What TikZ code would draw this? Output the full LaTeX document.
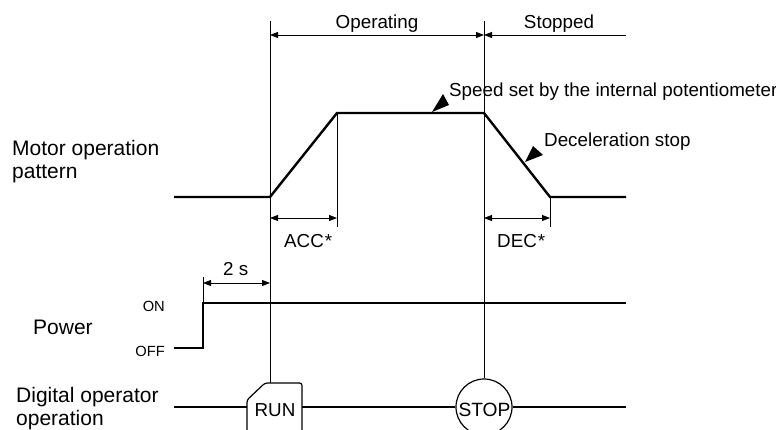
\documentclass[tikz,border=0pt]{standalone}
\usepackage{fontspec}
\setmainfont{Liberation Sans}
\usetikzlibrary{arrows.meta}
\begin{document}
\begin{tikzpicture}[x=1pt,y=-1pt,
  sig/.style={line width=2.4pt, line join=miter},
  thinln/.style={line width=0.9pt},
  tip/.tip={Triangle[length=8pt,width=6pt]},
  dimboth/.style={line width=0.8pt, tip-tip},
  dimleft/.style={line width=0.8pt, tip-},
  lbl/.style={font=\fontsize{18.8}{20}\selectfont, inner sep=0pt, anchor=base},
  big/.style={font=\fontsize{21}{23}\selectfont, inner sep=0pt, anchor=base west},
  small/.style={font=\fontsize{14.7}{16}\selectfont, inner sep=0pt, anchor=base east},
  keybox/.style={line width=1.2pt},
]
\useasboundingbox (0,0) rectangle (776,430);
\clip (0,0) rectangle (776,430);

% named points
\coordinate (runtop) at (270,21);
\coordinate (stoptop) at (484,21);
\coordinate (m0) at (174,197);
\coordinate (m1) at (270,197);
\coordinate (m2) at (337,113);
\coordinate (m3) at (484,113);
\coordinate (m4) at (550,197);
\coordinate (m5) at (626,197);
\coordinate (p0) at (174,348);
\coordinate (p1) at (203,348);
\coordinate (p2) at (203,303);
\coordinate (p3) at (626,303);

% top labels and dimension arrows
\node[lbl] (operating) at (377,29) {Operating};
\node[lbl] (stopped) at (559,29) {Stopped};
\coordinate (oa) at (270,35);
\coordinate (ob) at (484,35);
\coordinate (oc) at (626,35);
\draw[dimboth] (oa) -- (ob);
\draw[dimleft] (ob) -- (oc);

% RUN key and STOP key
\node[font=\fontsize{18.8}{20}\selectfont, inner sep=0pt, anchor=base] (run) at (275,416) {RUN};
\coordinate (rbl) at (247,440);
\coordinate (rbr) at (302,440);
\draw[keybox, rounded corners=2.5pt] (rbl) -- (247,400) -- (265,383) -- (302,383) -- (rbr);
\node[circle, draw, line width=1.2pt, minimum size=56pt, inner sep=0pt] (stopkey) at (484,407) {};
\node[font=\fontsize{19.2}{20}\selectfont, inner sep=0pt, anchor=base] (stoptxt) at (484.5,416) {STOP};

% vertical time markers
\draw[thinln] (runtop) -- (270,383);
\draw[thinln] (stoptop) -- (stopkey.north);

% motor operation pattern
\draw[sig] (m0) -- (m1) -- (m2) -- (m3) -- (m4) -- (m5);
\draw[thinln] (m2) -- (337,227);
\draw[thinln] (m4) -- (550,227);
\draw[dimboth] (270,218) -- (337,218);
\draw[dimboth] (484,218) -- (550,218);
\node[lbl, anchor=base west] (acc) at (284,248) {ACC\kern1pt*};
\node[lbl, anchor=base west] (dec) at (497,248) {DEC\kern1pt*};

% pointer triangles and their labels
\node[lbl, anchor=base west] (speed) at (449,97) {Speed set by the internal potentiometer};
\fill (432,112) -- (443,94) -- (449,105) -- cycle;
\node[lbl, anchor=base west] (decel) at (544,147) {Deceleration stop};
\fill (525,162) -- (533,146) -- (543,155) -- cycle;

% power
\draw[sig] (p0) -- (p1) -- (p2) -- (p3);
\draw[thinln] (203,277) -- (p2);
\draw[dimboth] (203,283) -- (270,283);
\node[lbl, anchor=base west] (twos) at (223,276) {2 s};
\node[small] (on) at (165,311) {ON};
\node[small] (off) at (165,356) {OFF};

% digital operator line
\draw[line width=2.2pt] (174,407) -- (247,407);
\draw[line width=2.2pt] (302,407) -- (stopkey.west);
\draw[line width=2.2pt] (stopkey.east) -- (626,407);

% left labels
\node[big] (motor1) at (12,156) {Motor operation};
\node[big] (motor2) at (12,179) {pattern};
\node[big] (power) at (33,334) {Power};
\node[big] (dig1) at (16,402) {Digital operator};
\node[big] (dig2) at (16,425) {operation};
\end{tikzpicture}
\end{document}
